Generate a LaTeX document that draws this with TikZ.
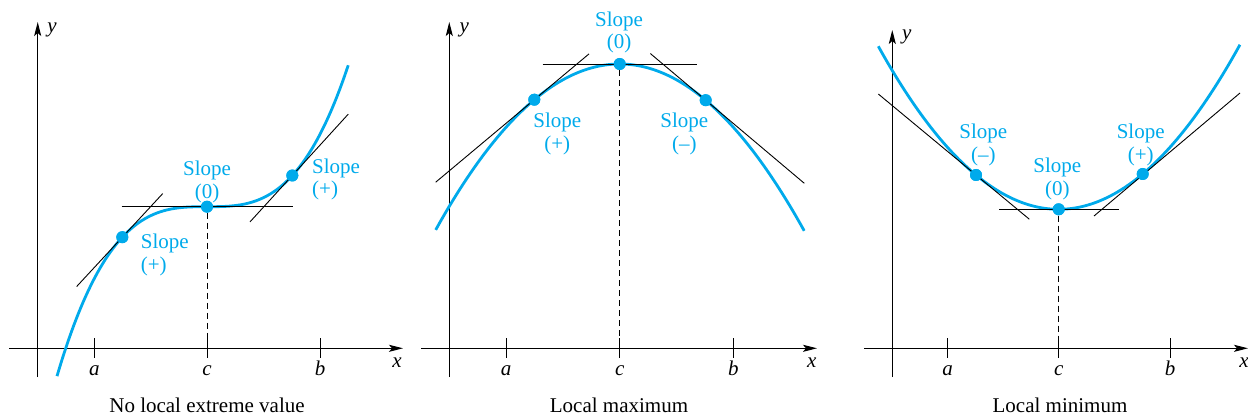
\documentclass[tikz,border=0pt]{standalone}
\usepackage{fontspec}
\setmainfont{Liberation Serif}
\usetikzlibrary{arrows.meta}
\definecolor{curveblue}{RGB}{0,170,235}
\begin{document}
\begin{tikzpicture}[x=1pt,y=-1pt,
  axis/.style={line width=1.1pt,-{Stealth[length=14pt,width=7pt,inset=3pt]}},
  curve/.style={curveblue,line width=2.8pt},
  tangent/.style={black,line width=0.9pt},
  dot/.style={circle,fill=curveblue,inner sep=0pt,minimum size=12pt},
  drop/.style={line width=1pt,dash pattern=on 6pt off 4pt},
  tickmark/.style={line width=1pt},
  lbl/.style={font=\fontsize{21}{22.5}\selectfont,text=curveblue,inner sep=0pt},
  axlbl/.style={font=\fontsize{21}{22}\selectfont\itshape,inner sep=0pt,anchor=base},
  captext/.style={font=\fontsize{21}{22}\selectfont,inner sep=0pt,anchor=base}]
\useasboundingbox (0,0) rectangle (1248,417);

% ---------- Panel 1: no local extreme value ----------
\coordinate (ay1s) at (37.7,377);
\coordinate (ay1e) at (37.7,22);
\coordinate (ax1s) at (9,348.3);
\coordinate (ax1e) at (403,348.3);
\draw[axis] (ay1s) -- (ay1e);
\draw[axis] (ax1s) -- (ax1e);
\node[axlbl] (ylab1) at (52,32.7) {y};
\node[axlbl] (xlab1) at (397,367) {x};
\foreach \px/\nm in {94.3/a,207/c,320/b}{
  \draw[tickmark] (\px,338) -- (\px,358);
  \node[axlbl] at (\px,375) {\nm};
}
\draw[curve] plot[domain=-1.5:1.413,samples=80,smooth] ({207+100*\x},{206.7-50.2*\x*\x*\x});
\node[dot] (p1l) at (122.3,237.2) {};
\node[dot] (p1c) at (207,206.7) {};
\node[dot] (p1r) at (292.3,175.5) {};
\coordinate (t1la) at (76.7,286.5);
\coordinate (t1lb) at (162.7,193.6);
\coordinate (t1ca) at (121.7,206.7);
\coordinate (t1cb) at (292.7,206.7);
\coordinate (t1ra) at (250,221.9);
\coordinate (t1rb) at (348.3,114.1);
\draw[tangent] (t1la) -- (t1lb);
\draw[tangent] (t1ca) -- (t1cb);
\draw[tangent] (t1ra) -- (t1rb);
\coordinate (f1) at (207,348.3);
\draw[drop] (p1c) -- (f1);
\node[dot] at (p1l) {};
\node[dot] at (p1c) {};
\node[dot] at (p1r) {};
\node[lbl,align=center,anchor=base] (s1c) at (207,198) {Slope\\(0)};
\node[lbl,align=left,anchor=base west] (s1l) at (140.7,271) {Slope\\(+)};
\node[lbl,align=left,anchor=base west] (s1r) at (312,196) {Slope\\(+)};
\node[captext] (cap1) at (207,412) {No local extreme value};

% ---------- Panel 2: local maximum ----------
\coordinate (ay2s) at (449.3,377);
\coordinate (ay2e) at (449.3,22);
\coordinate (ax2s) at (421,348.3);
\coordinate (ax2e) at (817,348.3);
\draw[axis] (ay2s) -- (ay2e);
\draw[axis] (ax2s) -- (ax2e);
\node[axlbl] (ylab2) at (464.3,32.7) {y};
\node[axlbl] (xlab2) at (811.7,367) {x};
\foreach \px/\nm in {506/a,619.7/c,733.3/b}{
  \draw[tickmark] (\px,338) -- (\px,358);
  \node[axlbl] at (\px,375) {\nm};
}
\draw[curve] plot[domain=-1.84:1.846,samples=80,smooth] ({619.7+100*\x},{64+49*\x*\x});
\node[dot] (p2l) at (534.3,99.7) {};
\node[dot] (p2c) at (619.7,64) {};
\node[dot] (p2r) at (705.7,100.2) {};
\coordinate (t2la) at (435.7,182.2);
\coordinate (t2lb) at (589,53.9);
\coordinate (t2ca) at (542.7,64);
\coordinate (t2cb) at (697.3,64);
\coordinate (t2ra) at (650.3,53.5);
\coordinate (t2rb) at (804.3,183.3);
\draw[tangent] (t2la) -- (t2lb);
\draw[tangent] (t2ca) -- (t2cb);
\draw[tangent] (t2ra) -- (t2rb);
\coordinate (f2) at (619.7,348.3);
\draw[drop] (p2c) -- (f2);
\node[dot] at (p2l) {};
\node[dot] at (p2c) {};
\node[dot] at (p2r) {};
\node[lbl,align=center,anchor=base] (s2c) at (619,49) {Slope\\(0)};
\node[lbl,align=center,anchor=base] (s2l) at (557.3,150) {Slope\\(+)};
\node[lbl,align=center,anchor=base] (s2r) at (684.3,150) {Slope\\(--)};
\node[captext] (cap2) at (619,412) {Local maximum};

% ---------- Panel 3: local minimum ----------
\coordinate (ay3s) at (892.3,377);
\coordinate (ay3e) at (892.3,30);
\coordinate (ax3s) at (864,348.3);
\coordinate (ax3e) at (1248,348.3);
\draw[axis] (ay3s) -- (ay3e);
\draw[axis] (ax3s) -- (ax3e);
\node[axlbl] (ylab3) at (906.7,39.3) {y};
\node[axlbl] (xlab3) at (1244,367) {x};
\foreach \px/\nm in {947.7/a,1058.7/c,1170/b}{
  \draw[tickmark] (\px,338) -- (\px,358);
  \node[axlbl] at (\px,375) {\nm};
}
\draw[curve] plot[domain=-1.804:1.813,samples=80,smooth] ({1058.7+100*\x},{209.3-50.1*\x*\x});
\node[dot] (p3l) at (976,175) {};
\node[dot] (p3c) at (1058.7,209.3) {};
\node[dot] (p3r) at (1142.7,174) {};
\coordinate (t3la) at (878.3,94);
\coordinate (t3lb) at (1029.3,219.2);
\coordinate (t3ca) at (999,209.3);
\coordinate (t3cb) at (1119.3,209.3);
\coordinate (t3ra) at (1094,216);
\coordinate (t3rb) at (1240,93);
\draw[tangent] (t3la) -- (t3lb);
\draw[tangent] (t3ca) -- (t3cb);
\draw[tangent] (t3ra) -- (t3rb);
\coordinate (f3) at (1058.7,348.3);
\draw[drop] (p3c) -- (f3);
\node[dot] at (p3l) {};
\node[dot] at (p3c) {};
\node[dot] at (p3r) {};
\node[lbl,align=center,anchor=base] (s3l) at (983.3,161) {Slope\\(--)};
\node[lbl,align=center,anchor=base] (s3c) at (1057.3,195) {Slope\\(0)};
\node[lbl,align=center,anchor=base] (s3r) at (1140.7,161) {Slope\\(+)};
\node[captext] (cap3) at (1060,412) {Local minimum};
\end{tikzpicture}
\end{document}
